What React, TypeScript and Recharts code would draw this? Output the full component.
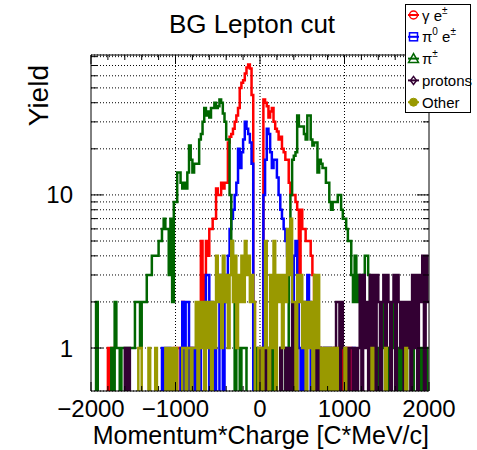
import React from 'react';
import { ComposedChart, Line, XAxis, YAxis, CartesianGrid, ReferenceLine } from 'recharts';

// ---------- data (counts per 20 MeV bin, 200 bins from -2000 to 2000) ----------
const X_MIN = -2000;
const X_MAX = 2000;
const BIN_WIDTH = 20;

const gammaE = [
  0,0,0,0,0,0,0,0,0,0, 1,0,1,0,0,0,0,0,0,0,
  0,0,0,0,0,0,0,0,0,0, 0,0,0,0,0,0,0,0,0,0,
  0,0,0,0,0,0,0,0,0,1, 0,1,1,0,2,0,1,0,0,1,
  0,0,1,0,0,5,2,3,5,4, 6,6,7,7,11,10,10,12,11,12,
  12,22,24,25,27,30,33,37,50,54, 56,62,68,71,67,45,2,0,0,0,
  0,1,42,40,38,32,35,37,30,27, 26,23,24,20,19,17,17,12,10,10,
  10,9,8,3,8,6,6,5,5,5, 4,3,2,2,0,1,0,0,0,0,
  0,0,0,0,1,0,1,0,1,0, 0,1,0,1,0,0,0,0,0,0,
  0,0,0,0,0,0,0,0,0,0, 0,0,0,0,0,1,0,0,0,0,
  0,0,0,0,0,0,0,0,0,0, 0,0,0,0,0,0,0,0,0,0,
];

const pi0E = [
  0,0,0,0,0,0,0,0,0,0, 0,0,0,0,0,0,0,0,0,0,
  0,0,0,0,0,0,0,0,0,0, 0,0,0,0,0,0,0,0,0,0,
  0,0,1,0,1,0,1,0,0,0, 0,0,0,1,2,0,2,2,0,1,
  0,1,0,1,1,0,0,2,3,3, 0,2,0,1,0,0,3,2,0,2,
  3,4,6,7,8,10,12,20,15,19, 23,30,27,25,22,16,0,0,0,0,
  0,0,10,17,27,25,19,15,17,17, 13,10,8,7,6,5,4,5,4,2,
  4,5,3,1,0,2,0,2,3,2, 0,1,0,0,0,1,0,0,1,1,
  0,1,0,0,0,0,0,0,0,0, 0,0,0,0,0,1,0,0,0,0,
  0,0,0,0,0,0,0,0,0,0, 0,0,0,0,0,0,0,0,0,0,
  0,0,0,0,0,0,0,0,0,0, 0,0,0,0,0,0,0,0,0,0,
];

const chargedPi = [
  0,0,0,2,0,0,0,0,0,0, 0,0,1,0,2,1,1,0,1,1,
  1,1,1,1,1,1,2,2,2,1, 2,2,2,3,3,3,4,4,4,4,
  5,5,6,7,6,6,3,7,2,9, 9,14,14,12,11,12,11,14,21,17,
  14,16,16,16,23,25,30,37,33,35, 32,37,37,40,37,38,42,40,34,30,
  23,23,10,5,3,0,1,1,0,1, 1,1,0,0,0,0,0,1,0,0,
  0,0,1,0,0,0,0,1,0,0, 0,0,1,0,0,1,1,5,10,17,
  18,19,33,28,28,28,25,23,33,33, 23,21,22,22,14,17,16,15,15,12,
  12,9,8,9,9,9,10,10,8,7, 7,6,5,5,3,2,4,2,3,2,
  2,3,4,4,3,1,0,1,0,1, 0,0,1,2,0,1,0,0,1,2,
  1,1,0,1,0,0,1,0,0,0, 1,0,0,0,1,0,1,0,1,0,
];

const protons = [
  0,0,0,0,0,0,0,0,0,0, 0,0,0,0,0,0,0,0,0,0,
  1,0,1,0,0,0,0,0,0,0, 0,0,0,0,0,0,0,0,0,0,
  0,0,0,0,0,0,0,0,0,0, 0,0,0,0,0,0,0,0,0,0,
  0,0,0,0,0,0,0,0,0,0, 0,0,0,0,0,0,0,0,0,0,
  0,0,0,0,0,0,0,0,0,0, 0,0,0,0,0,0,0,0,0,1,
  0,0,0,1,0,1,0,0,0,0, 0,0,1,0,0,1,0,1,0,2,
  0,1,0,0,0,0,0,0,0,0, 0,0,0,1,0,1,0,1,0,1,
  0,1,0,1,0,2,2,0,2,1, 0,1,0,1,1,0,1,0,1,3,
  0,3,1,2,0,3,1,3,0,3, 2,0,2,3,0,3,2,0,2,3,
  0,3,2,1,2,0,2,1,2,0, 3,1,3,0,3,2,4,0,4,2,
];

const other = [
  0,0,0,0,0,0,0,0,0,0, 0,0,0,0,0,0,0,0,0,0,
  0,0,0,0,0,0,0,0,1,1, 0,0,0,0,1,0,0,0,1,0,
  0,0,0,0,1,0,1,0,1,0, 1,0,0,0,1,1,0,1,1,0,
  1,1,2,0,2,1,2,0,2,1, 2,0,2,1,4,2,3,1,4,2,
  3,1,3,5,2,4,1,3,2,4, 2,5,3,4,2,3,2,0,0,1,
  1,0,1,5,1,0,3,1,5,0, 3,2,3,1,3,2,6,3,7,2,
  2,0,3,2,3,1,2,0,2,1, 2,0,3,1,3,1,0,1,0,1,
  0,1,0,1,0,1,0,0,0,0, 1,0,0,0,0,0,0,0,0,0,
  0,0,0,0,0,0,1,0,0,0, 0,0,0,0,1,0,0,0,0,0,
  0,0,0,0,0,0,1,0,0,0, 0,0,0,0,0,0,0,0,0,0,
];

const X_TICKS = [
  -2000, -1800, -1600, -1400, -1200, -1000, -800, -600, -400, -200, 0,
  200, 400, 600, 800, 1000, 1200, 1400, 1600, 1800, 2000,
];
const X_LABELED = [-2000, -1000, 0, 1000, 2000];
const X_GRID = [-1000, 0, 1000];
const Y_TICKS = [1, 2, 3, 4, 5, 6, 7, 8, 9, 10, 20, 30, 40, 50, 60, 70, 80];
const Y_LABELED = [1, 10];
const Y_MIN = 0.524;
const Y_MAX = 82;

const TITLE = 'BG Lepton cut';
const X_TITLE = 'Momentum*Charge [C*MeV/c]';
const Y_TITLE = 'Yield';

const SERIES = [
  { key: 'gamma', values: gammaE, color: '#ff0000', marker: 'circle' },
  { key: 'pi0', values: pi0E, color: '#0000ff', marker: 'square' },
  { key: 'pipm', values: chargedPi, color: '#006600', marker: 'triangle' },
  { key: 'protons', values: protons, color: '#330033', marker: 'diamond' },
  { key: 'other', values: other, color: '#999900', marker: 'filled' },
];

// zero bins are sent below the log axis floor (clipped, as ROOT draws them at the frame bottom)
const LOG_FLOOR = 0.1;
const NBINS = gammaE.length;
const data = Array.from({ length: NBINS + 1 }, (_, i) => {
  const idx = Math.min(i, NBINS - 1);
  const row: Record<string, number> = { x: X_MIN + i * BIN_WIDTH };
  SERIES.forEach((s) => {
    const v = s.values[idx];
    row[s.key] = v > 0 ? v : LOG_FLOOR;
  });
  return row;
});

const FONT = '"Liberation Sans", Arial, Helvetica, sans-serif';
const fmt = (v: number) => (v < 0 ? '\u2212' + Math.abs(v) : String(v));

const BottomTick = (p: any) => {
  const { x, y, payload } = p;
  const major = X_LABELED.includes(payload.value);
  return (
    <g>
      <line x1={x} x2={x} y1={y} y2={y - (major ? 9 : 5)} stroke="#000" strokeWidth={1} />
      {major && (
        <text x={x} y={y + 26} textAnchor="middle" fontSize={24} fontFamily={FONT} fill="#000">
          {fmt(payload.value)}
        </text>
      )}
    </g>
  );
};

const TopTick = (p: any) => {
  const { x, y, payload } = p;
  const major = X_LABELED.includes(payload.value);
  return <line x1={x} x2={x} y1={y} y2={y + (major ? 9 : 5)} stroke="#000" strokeWidth={1} />;
};

const LeftTick = (p: any) => {
  const { x, y, payload } = p;
  const major = Y_LABELED.includes(payload.value);
  return (
    <g>
      <line x1={x} x2={x + (major ? 12 : 6)} y1={y} y2={y} stroke="#000" strokeWidth={1} />
      {major && (
        <text x={x - 18} y={y + 8.5} textAnchor="end" fontSize={24} fontFamily={FONT} fill="#000">
          {payload.value}
        </text>
      )}
    </g>
  );
};

const RightTick = (p: any) => {
  const { x, y, payload } = p;
  const major = Y_LABELED.includes(payload.value);
  return <line x1={x} x2={x - (major ? 12 : 6)} y1={y} y2={y} stroke="#000" strokeWidth={1} />;
};

const Marker = ({ type, color, cx, cy }: { type: string; color: string; cx: number; cy: number }) => {
  const r = 4;
  if (type === 'circle') return <circle cx={cx} cy={cy} r={r} fill="none" stroke={color} strokeWidth={1.5} />;
  if (type === 'square')
    return <rect x={cx - r} y={cy - r} width={2 * r} height={2 * r} fill="none" stroke={color} strokeWidth={1.5} />;
  if (type === 'triangle')
    return (
      <polygon
        points={`${cx},${cy - r - 1} ${cx - r - 1},${cy + r} ${cx + r + 1},${cy + r}`}
        fill="none"
        stroke={color}
        strokeWidth={1.5}
      />
    );
  if (type === 'diamond')
    return (
      <polygon
        points={`${cx},${cy - r} ${cx + r - 1},${cy} ${cx},${cy + r} ${cx - r + 1},${cy}`}
        fill="none"
        stroke={color}
        strokeWidth={1.5}
      />
    );
  return <circle cx={cx} cy={cy} r={r} fill={color} stroke={color} />;
};

const SUP = { fontSize: 10 };
const legendLabels = [
  <>γ e<tspan dy={-7} {...SUP}>±</tspan></>,
  <>π<tspan dy={-7} {...SUP}>0</tspan><tspan dy={7}> e</tspan><tspan dy={-7} {...SUP}>±</tspan></>,
  <>π<tspan dy={-7} {...SUP}>±</tspan></>,
  <>protons</>,
  <>Other</>,
];

export default function App() {
  return (
    <div style={{ position: 'absolute', left: 0, top: 0, width: 477, height: 450, background: '#fff' }}>
      <ComposedChart
        width={477}
        height={450}
        data={data}
        margin={{ top: 25, right: 0, bottom: 0, left: 0 }}
      >
        <CartesianGrid
          xAxisId="b"
          yAxisId="l"
          vertical={false}
          stroke="#000"
          strokeDasharray="1 2"
        />
        <XAxis
          xAxisId="b"
          dataKey="x"
          type="number"
          domain={[X_MIN, X_MAX]}
          ticks={X_TICKS}
          interval={0}
          tickSize={0}
          tickMargin={0}
          tick={(p: any) => <BottomTick {...p} />}
          height={59}
          axisLine={{ stroke: '#000' }}
          allowDataOverflow
        />
        <XAxis
          xAxisId="t"
          orientation="top"
          dataKey="x"
          type="number"
          domain={[X_MIN, X_MAX]}
          ticks={X_TICKS}
          interval={0}
          tickSize={0}
          tickMargin={0}
          tick={(p: any) => <TopTick {...p} />}
          height={30}
          axisLine={{ stroke: '#000' }}
          allowDataOverflow
        />
        <YAxis
          yAxisId="l"
          type="number"
          scale="log"
          domain={[Y_MIN, Y_MAX]}
          ticks={Y_TICKS}
          interval={0}
          tickSize={0}
          tickMargin={0}
          tick={(p: any) => <LeftTick {...p} />}
          width={91}
          axisLine={{ stroke: '#000' }}
          allowDataOverflow
        />
        <YAxis
          yAxisId="r"
          orientation="right"
          type="number"
          scale="log"
          domain={[Y_MIN, Y_MAX]}
          ticks={Y_TICKS}
          interval={0}
          tickSize={0}
          tickMargin={0}
          tick={(p: any) => <RightTick {...p} />}
          width={48}
          axisLine={{ stroke: '#000' }}
          allowDataOverflow
        />
        {X_GRID.map((v) => (
          <ReferenceLine
            key={v}
            x={v}
            xAxisId="b"
            yAxisId="l"
            stroke="#000"
            strokeDasharray="1 2"
          />
        ))}
        {SERIES.map((s) => (
          <Line
            key={s.key}
            xAxisId="b"
            yAxisId="l"
            dataKey={s.key}
            type="stepAfter"
            stroke={s.color}
            strokeWidth={2.5}
            dot={false}
            activeDot={false}
            isAnimationActive={false}
          />
        ))}
      </ComposedChart>
      <svg
        width={477}
        height={450}
        style={{ position: 'absolute', left: 0, top: 0, pointerEvents: 'none' }}
        fontFamily={FONT}
      >
        <text x={252} y={33} textAnchor="middle" fontSize={26} fill="#000">
          {TITLE}
        </text>
        <text x={429} y={444} textAnchor="end" fontSize={25} fill="#000">
          {X_TITLE}
        </text>
        <text
          x={0}
          y={0}
          transform="translate(48,65) rotate(-90)"
          textAnchor="end"
          fontSize={28}
          fill="#000"
        >
          {Y_TITLE}
        </text>
        <rect x={405.5} y={4.5} width={65} height={108} fill="#fff" stroke="#000" strokeWidth={1} />
        {SERIES.map((s, i) => {
          const cy = 15 + i * 21.8;
          return (
            <g key={s.key}>
              <line x1={408} x2={419} y1={cy} y2={cy} stroke={s.color} strokeWidth={2} />
              <Marker type={s.marker} color={s.color} cx={413.5} cy={cy} />
              <text x={422} y={cy + 5.5} fontSize={15} fill="#000">
                {legendLabels[i]}
              </text>
            </g>
          );
        })}
      </svg>
    </div>
  );
}
